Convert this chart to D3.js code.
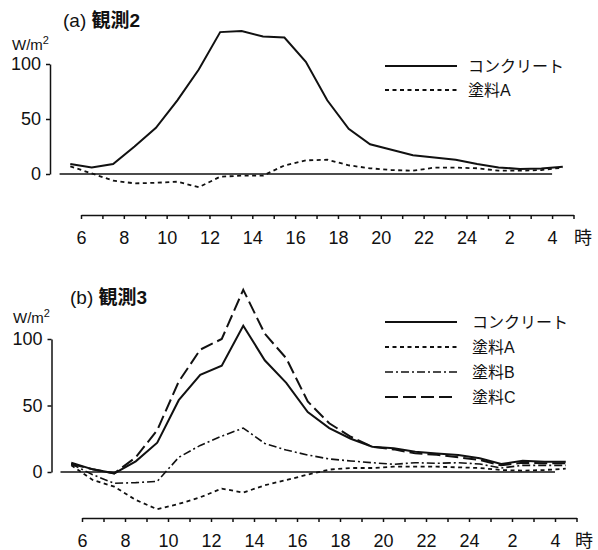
<!DOCTYPE html>
<html>
<head>
<meta charset="utf-8">
<script src="https://cdn.jsdelivr.net/npm/d3@7"></script>
<style>
  body { margin: 0; background: #fff; }
  svg { display: block; font-family: "Liberation Sans", Arial, "Noto Sans CJK JP", sans-serif; }
</style>
</head>
<body>
<svg id="chart" width="598" height="550"></svg>
<script>
// hourly means, plotted at the half hour (5:30 .. 28:30 = 4:30 next day)
const hours = [5.5, 6.5, 7.5, 8.5, 9.5, 10.5, 11.5, 12.5, 13.5, 14.5, 15.5, 16.5,
  17.5, 18.5, 19.5, 20.5, 21.5, 22.5, 23.5, 24.5, 25.5, 26.5, 27.5, 28.5];
const tickHours = [6, 7, 8, 9, 10, 11, 12, 13, 14, 15, 16, 17, 18, 19, 20, 21,
  22, 23, 24, 25, 26, 27, 28, 29];
const labelHours = [6, 8, 10, 12, 14, 16, 18, 20, 22, 24, 26, 28];
const yTicks = [0, 50, 100];

// (a) 観測2
const obs2Concrete = [9, 6, 9, 25, 42, 67, 95, 129, 130, 125, 124, 102,
  67, 41, 27, 22, 17, 15, 13, 9, 6, 4.5, 5, 6.5];
const obs2PaintA = [7, 0.5, -6, -8.5, -8, -7, -12, -2.5, -1.5, -1.5, 7.8, 12.4,
  13, 7.9, 5.2, 3.6, 3, 5.8, 5.8, 5.2, 3, 3, 3.6, 5.8];

// (b) 観測3
const obs3Concrete = [7, 2, -1, 8, 22, 54, 73, 80, 110, 84, 67, 45,
  33, 25, 19, 17.8, 15.3, 14, 12.8, 10.3, 6, 8.5, 7.7, 7.7];
const obs3PaintA = [5, -6, -11, -21, -28, -24, -19, -12.5, -15.5, -10, -6, -2,
  1.8, 3, 3, 4, 4, 4, 3.5, 3, 1.5, 1, 1.5, 2.5];
const obs3PaintB = [6, -2, -8.5, -8, -7, 11, 20, 27, 33, 21.5, 16.5, 12.8,
  9.8, 8.3, 7, 5.8, 7, 6.5, 7, 6, 3, 5, 5, 5];
const obs3PaintC = [6, 2, -1, 11, 31.5, 68, 92, 100, 137, 104, 85.5, 53,
  36.6, 26.5, 19, 17, 14, 13, 11, 9, 5, 7, 6.5, 6.5];

const svg = d3.select("#chart");

function hourLabel(h) {
  return h > 24 ? String(h - 24) : String(h);
}

function panel(opt) {
  const x = d3.scaleLinear().domain([6, 29]).range(opt.xRange);
  const y = d3.scaleLinear().domain([0, 100]).range(opt.yRange);
  const g = svg.append("g");

  // title
  const t = g.append("text")
    .attr("x", opt.titleX)
    .attr("y", opt.titleY)
    .style("font-size", "19px")
    .style("fill", "#111");
  t.append("tspan").text(opt.titleTag + " ");
  t.append("tspan").style("font-weight", "bold").text(opt.title);

  // unit
  const u = g.append("text")
    .attr("x", opt.unitX)
    .attr("y", opt.unitY)
    .style("font-size", "15px")
    .style("fill", "#111");
  u.append("tspan").text("W/m");
  u.append("tspan").attr("dy", -6).style("font-size", "11px").text("2");

  // y axis
  const yAxis = g.append("g")
    .attr("transform", `translate(${opt.yAxisX},0)`)
    .call(d3.axisLeft(y).tickValues(yTicks).tickSize(4).tickSizeOuter(0).tickPadding(5));
  yAxis.selectAll("path, line").attr("stroke", "#111").attr("stroke-width", 1.5);
  yAxis.selectAll("text").style("font-size", "18px").style("font-family", "Liberation Sans, Arial").attr("fill", "#111");

  // x axis
  const xAxis = g.append("g")
    .attr("transform", `translate(0,${opt.xAxisY})`)
    .call(d3.axisBottom(x).tickValues(tickHours).tickSize(4).tickSizeOuter(0).tickPadding(12)
      .tickFormat(h => labelHours.includes(h) ? hourLabel(h) : ""));
  xAxis.selectAll("path, line").attr("stroke", "#111").attr("stroke-width", 1.5);
  xAxis.selectAll("text").style("font-size", "18px").style("font-family", "Liberation Sans, Arial").attr("fill", "#111");

  g.append("text")
    .attr("x", opt.jiX)
    .attr("y", opt.xAxisY + 23)
    .attr("text-anchor", "middle")
    .attr("dominant-baseline", "central")
    .style("font-size", "18px")
    .style("fill", "#111")
    .text("時");

  // zero line
  g.append("line")
    .attr("x1", x(5)).attr("x2", x(28))
    .attr("y1", y(0)).attr("y2", y(0))
    .attr("stroke", "#111").attr("stroke-width", 1.5);

  const line = d3.line()
    .x((d, i) => x(hours[i]))
    .y(d => y(d));

  opt.series.forEach(s => {
    g.append("path")
      .datum(s.values)
      .attr("d", line)
      .attr("fill", "none")
      .attr("stroke", "#111")
      .attr("stroke-width", s.width)
      .attr("stroke-dasharray", s.dash);
  });

  // legend
  opt.series.forEach((s, k) => {
    const ly = opt.legendY + k * opt.legendGap;
    g.append("line")
      .attr("x1", 385).attr("x2", 457)
      .attr("y1", ly).attr("y2", ly)
      .attr("stroke", "#111")
      .attr("stroke-width", s.width)
      .attr("stroke-dasharray", s.dash);
    g.append("text")
      .attr("x", opt.legendTextX)
      .attr("y", ly)
      .attr("dominant-baseline", "central")
      .style("font-size", "16px")
      .style("fill", "#111")
      .text(s.name);
  });
}

const styles = {
  concrete: { name: "コンクリート", width: 2, dash: null },
  a: { name: "塗料A", width: 1.8, dash: "4,3.5" },
  b: { name: "塗料B", width: 1.6, dash: "8,3,2,3" },
  c: { name: "塗料C", width: 2, dash: "13,5" }
};

panel({
  xRange: [81, 573.5], yRange: [174, 64],
  xAxisY: 215, yAxisX: 50,
  titleTag: "(a)", title: "観測2", titleX: 63, titleY: 27,
  unitX: 12, unitY: 50, jiX: 583,
  legendY: 66, legendGap: 24, legendTextX: 468,
  series: [
    Object.assign({ values: obs2Concrete }, styles.concrete),
    Object.assign({ values: obs2PaintA }, styles.a)
  ]
});

panel({
  xRange: [82, 576.5], yRange: [472, 339],
  xAxisY: 518, yAxisX: 51.5,
  titleTag: "(b)", title: "観測3", titleX: 70, titleY: 304,
  unitX: 13, unitY: 323, jiX: 584,
  legendY: 322, legendGap: 25, legendTextX: 472,
  series: [
    Object.assign({ values: obs3Concrete }, styles.concrete),
    Object.assign({ values: obs3PaintA }, styles.a),
    Object.assign({ values: obs3PaintB }, styles.b),
    Object.assign({ values: obs3PaintC }, styles.c)
  ]
});
</script>
</body>
</html>
